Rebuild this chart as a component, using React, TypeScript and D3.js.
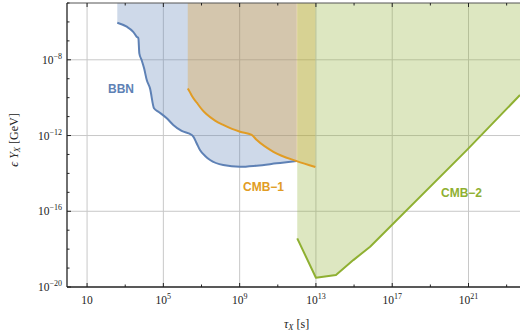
import React from "react";
import * as d3 from "d3";

// log10 values
const bbnLogTau = [2.585, 3.08, 3.42, 3.6, 3.69, 3.74, 3.86, 3.99, 4.13, 4.3, 4.51, 4.74, 5.18, 5.52, 5.96, 6.49, 6.57, 6.75, 6.92, 7.19, 7.45, 8.14, 9.02, 9.89, 10.94, 11.99];
const bbnLogEY = [-6.04, -6.25, -6.52, -6.78, -6.86, -7.66, -8.01, -8.45, -9.07, -9.51, -10.56, -10.74, -11.09, -11.44, -11.76, -11.97, -12.06, -12.42, -12.77, -13.08, -13.29, -13.56, -13.65, -13.59, -13.47, -13.35];

const cmb1LogTau = [6.28, 6.4, 6.5, 6.765, 7.03, 7.27, 7.71, 8.14, 8.6, 9.02, 9.63, 9.9, 10.77, 11.99, 12.97];
const cmb1LogEY = [-9.51, -9.72, -9.91, -10.28, -10.63, -10.88, -11.21, -11.44, -11.65, -11.8, -11.97, -12.24, -12.86, -13.35, -13.66];

const cmb2LogTau = [12.02, 13.0, 14.05, 14.96, 15.84, 20.91, 23.7];
const cmb2LogEY = [-17.43, -19.51, -19.37, -18.58, -17.87, -12.77, -9.86];

const xTickExps = [1, 5, 9, 13, 17, 21];
const xMinorExps = [3, 7, 11, 15, 19, 23];
const yTickExps = [-20, -16, -12, -8];
const yMinorExps = [-19, -18, -17, -15, -14, -13, -11, -10, -9, -7, -6, -5];

const BLUE = "#5E81B5";
const ORANGE = "#E19C24";
const GREEN = "#8FB032";

const W = 520, H = 335;
const L = 67, R = 520, T = 3, B = 287;

export default function App() {
  const x = d3.scaleLog().domain([1, Math.pow(10, 23.7)]).range([68, R]);
  const y = d3.scaleLog().domain([1e-20, 1e-5]).range([B, T]);
  const yTop = 1e-5;

  const toPts = (lt: number[], le: number[]) => lt.map((t, i) => [Math.pow(10, t), Math.pow(10, le[i])] as [number, number]);
  const bbn = toPts(bbnLogTau, bbnLogEY);
  const cmb1 = toPts(cmb1LogTau, cmb1LogEY);
  const cmb2 = toPts(cmb2LogTau, cmb2LogEY);

  const areaS = d3.area<[number, number]>().x(d => x(d[0])).y0(() => y(yTop)).y1(d => y(d[1])).curve(d3.curveMonotoneX);
  const lineS = d3.line<[number, number]>().x(d => x(d[0])).y(d => y(d[1])).curve(d3.curveMonotoneX);
  const area = d3.area<[number, number]>().x(d => x(d[0])).y0(() => y(yTop)).y1(d => y(d[1]));
  const line = d3.line<[number, number]>().x(d => x(d[0])).y(d => y(d[1]));

  const sup = (e: number) => (e === 1 ? "" : String(e).replace("-", "\u2212"));

  return (
    <svg width={W} height={H} style={{ position: "absolute", left: 0, top: 0 }}>
      <defs>
        <clipPath id="plot">
          <rect x={L} y={T} width={R - L} height={B - T} />
        </clipPath>
      </defs>
      {/* grid */}
      {xTickExps.map(e => (
        <line key={"gx" + e} x1={x(Math.pow(10, e))} x2={x(Math.pow(10, e))} y1={T} y2={B} stroke="#c8c8c8" strokeWidth={1} />
      ))}
      {yTickExps.slice(1).map(e => (
        <line key={"gy" + e} x1={L} x2={R} y1={y(Math.pow(10, e))} y2={y(Math.pow(10, e))} stroke="#c8c8c8" strokeWidth={1} />
      ))}
      <g clipPath="url(#plot)">
        <path d={areaS(bbn) || ""} fill={BLUE} fillOpacity={0.3} />
        <path d={areaS(cmb1) || ""} fill={ORANGE} fillOpacity={0.3} />
        <path d={area(cmb2) || ""} fill={GREEN} fillOpacity={0.3} />
        <path d={lineS(bbn) || ""} fill="none" stroke={BLUE} strokeWidth={2} strokeLinejoin="round" />
        <path d={lineS(cmb1) || ""} fill="none" stroke={ORANGE} strokeWidth={2} strokeLinejoin="round" />
        <path d={line(cmb2) || ""} fill="none" stroke={GREEN} strokeWidth={2} strokeLinejoin="round" />
      </g>
      {/* frame */}
      <line x1={L} x2={R} y1={T} y2={T} stroke="#555" strokeWidth={1} />
      <line x1={L} x2={L} y1={T} y2={B} stroke="#222" strokeWidth={1.3} />
      <line x1={L} x2={R} y1={B} y2={B} stroke="#222" strokeWidth={1.3} />
      {/* x ticks */}
      {xTickExps.map(e => {
        const px = x(Math.pow(10, e));
        return (
          <g key={"xt" + e}>
            <line x1={px} x2={px} y1={B} y2={B - 4} stroke="#222" />
            <line x1={px} x2={px} y1={T} y2={T + 4} stroke="#222" />
            <text x={px} y={304} textAnchor="middle" fontFamily="'Liberation Serif', serif" fontSize={11.5} fill="#222">
              10{e !== 1 && <tspan dy={-5} fontSize={8}>{sup(e)}</tspan>}
            </text>
          </g>
        );
      })}
      {xMinorExps.map(e => {
        const px = x(Math.pow(10, e));
        if (px > R) return null;
        return (
          <g key={"xm" + e}>
            <line x1={px} x2={px} y1={B} y2={B - 2.5} stroke="#222" />
            <line x1={px} x2={px} y1={T} y2={T + 2.5} stroke="#222" />
          </g>
        );
      })}
      {/* y ticks */}
      {yTickExps.map(e => {
        const py = y(Math.pow(10, e));
        return (
          <g key={"yt" + e}>
            <line x1={L} x2={L + 4} y1={py} y2={py} stroke="#222" />
            <text x={62} y={py + 4} textAnchor="end" fontFamily="'Liberation Serif', serif" fontSize={11.5} fill="#222">
              10<tspan dy={-5} fontSize={8}>{sup(e)}</tspan>
            </text>
          </g>
        );
      })}
      {yMinorExps.map(e => {
        const py = y(Math.pow(10, e));
        return <line key={"ym" + e} x1={L} x2={L + 2.5} y1={py} y2={py} stroke="#222" />;
      })}
      {/* axis titles */}
      <text x={284} y={328} fontFamily="'Liberation Serif', serif" fontSize={12} fill="#222">
        <tspan fontStyle="italic">τ</tspan>
        <tspan fontStyle="italic" fontSize={8.5} dy={2}>X</tspan>
        <tspan dy={-2}> [s]</tspan>
      </text>
      <text transform="translate(18,140) rotate(-90)" textAnchor="middle" fontFamily="'Liberation Serif', serif" fontSize={12} fill="#222">
        <tspan fontStyle="italic">ϵ Y</tspan>
        <tspan fontStyle="italic" fontSize={8.5} dy={2}>X</tspan>
        <tspan dy={-2}> [GeV]</tspan>
      </text>
      {/* region labels */}
      <text x={108} y={92.5} fontFamily="'Liberation Sans', Arial, sans-serif" fontWeight="bold" fontSize={12} fill={BLUE}>BBN</text>
      <text x={243} y={191} fontFamily="'Liberation Sans', Arial, sans-serif" fontWeight="bold" fontSize={12} fill={ORANGE}>CMB−1</text>
      <text x={441} y={197} fontFamily="'Liberation Sans', Arial, sans-serif" fontWeight="bold" fontSize={12} fill={GREEN}>CMB−2</text>
    </svg>
  );
}
